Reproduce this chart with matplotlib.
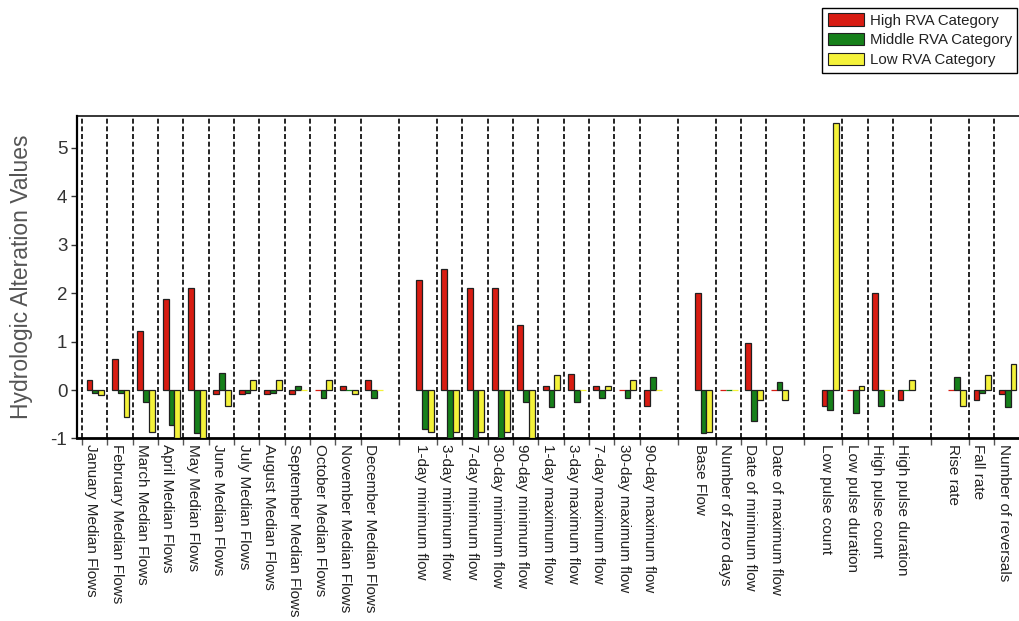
import numpy as np
import matplotlib.pyplot as plt
from matplotlib.patches import Patch

plt.rcParams['font.family'] = ['Liberation Sans', 'DejaVu Sans']
plt.rcParams['axes.unicode_minus'] = False

# IHA parameter groups (a blank slot is left between groups)
group1 = ["January Median Flows", "February Median Flows", "March Median Flows",
          "April Median Flows", "May Median Flows", "June Median Flows",
          "July Median Flows", "August Median Flows", "September Median Flows",
          "October Median Flows", "November Median Flows", "December Median Flows"]
group2 = ["1-day minimum flow", "3-day minimum flow", "7-day minimum flow",
          "30-day minimum flow", "90-day minimum flow", "1-day maximum flow",
          "3-day maximum flow", "7-day maximum flow", "30-day maximum flow",
          "90-day maximum flow"]
group3 = ["Base Flow", "Number of zero days", "Date of minimum flow",
          "Date of maximum flow"]
group4 = ["Low pulse count", "Low pulse duration", "High pulse count",
          "High pulse duration"]
group5 = ["Rise rate", "Fall rate", "Number of reversals"]
groups = [group1, group2, group3, group4, group5]

high = [0.21, 0.65, 1.22, 1.87, 2.11, -0.09, -0.09, -0.09, -0.09, 0.0, 0.09, 0.21,
        2.26, 2.50, 2.11, 2.11, 1.34, 0.09, 0.33, 0.09, 0.0, -0.33,
        2.0, 0.0, 0.98, 0.0,
        -0.33, 0.0, 2.0, -0.21,
        0.0, -0.21, -0.09]
middle = [-0.07, -0.07, -0.24, -0.72, -0.89, 0.36, -0.07, -0.07, 0.09, -0.16, 0.0, -0.16,
          -0.81, -1.0, -1.0, -1.0, -0.24, -0.36, -0.24, -0.16, -0.16, 0.26,
          -0.89, 0.0, -0.63, 0.17,
          -0.41, -0.48, -0.33, 0.0,
          0.26, -0.07, -0.36]
low = [-0.10, -0.55, -0.86, -1.0, -1.0, -0.33, 0.21, 0.21, 0.0, 0.21, -0.09, 0.0,
       -0.87, -0.87, -0.87, -0.87, -1.0, 0.32, 0.0, 0.09, 0.21, 0.0,
       -0.87, 0.0, -0.21, -0.21,
       5.50, 0.09, 0.0, 0.21,
       -0.33, 0.32, 0.53]

series = [("High RVA Category", high, "#d81c12"),
          ("Middle RVA Category", middle, "#16801a"),
          ("Low RVA Category", low, "#f4f23a")]

# slot positions, separator lines
labels, slots, seps = [], [], []
pos = 0
for g, grp in enumerate(groups):
    seps.append(pos if g == 0 else pos - 0.5)
    for k, name in enumerate(grp):
        labels.append(name)
        slots.append(pos)
        if k > 0:
            seps.append(pos)
        pos += 1
    pos += 1
slots = np.array(slots, dtype=float)

fig = plt.figure(figsize=(10.19, 6.21), dpi=100)
ax = fig.add_axes([0.0756, 0.2939, 0.935, 0.5198])

bw = 0.23
for k, (name, vals, col) in enumerate(series):
    vals = np.array(vals)
    edges = [col if v == 0 else "#202020" for v in vals]
    ax.bar(slots + 0.18 + k * bw, vals, width=bw, align="edge",
           color=col, edgecolor=edges, linewidth=0.9, zorder=3)

for s in seps:
    ax.axvline(s, color="black", lw=1.2, ls=(0, (3, 1.6)), zorder=2)

ax.set_xlim(-0.2, 37.4)
ax.set_ylim(-1, 5.66)
ax.set_yticks(range(-1, 6))
ax.tick_params(axis="y", labelsize=13.5, length=4, width=1, colors="#333333", pad=3)

ax.set_xticks(slots + 0.37)
ax.set_xticklabels(labels, rotation=270, fontsize=11, color="#222222")
ax.tick_params(axis="x", which="major", length=0, pad=4)
ax.set_xticks(seps, minor=True)
ax.tick_params(axis="x", which="minor", length=5, width=1, color="#555555")

ax.set_ylabel("Hydrologic Alteration Values", fontsize=16.5, color="#555555")
ax.yaxis.set_label_coords(-0.046, 0.5)

ax.spines["bottom"].set_linewidth(2.0)
ax.spines["left"].set_linewidth(1.6)
ax.spines["top"].set_linewidth(1.1)
ax.spines["right"].set_visible(False)

handles = [Patch(facecolor=c, edgecolor="#202020", linewidth=0.8) for _, _, c in series]
leg = fig.legend(handles, [n for n, _, _ in series], loc="upper right",
                 bbox_to_anchor=(1017 / 1019, 1 - 8 / 621), fontsize=10.8,
                 frameon=True, fancybox=False, framealpha=1, edgecolor="black",
                 handlelength=2.4, handleheight=0.9, handletextpad=0.4,
                 labelspacing=0.36, borderpad=0.35, borderaxespad=0)
leg.get_frame().set_linewidth(1.0)
for t in leg.get_texts():
    t.set_color("#222222")

fig.savefig("out.png", dpi=100)
